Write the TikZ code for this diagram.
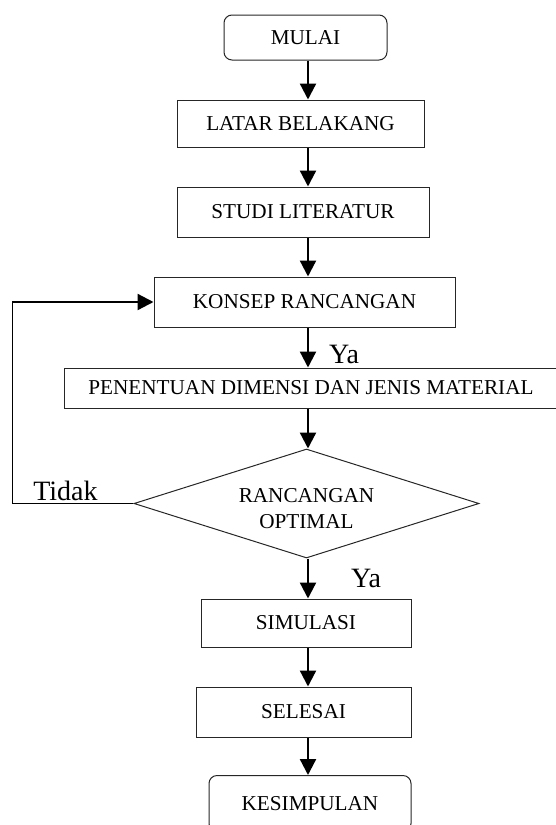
\documentclass[tikz,border=0pt]{standalone}
\usepackage{fontspec}
\setmainfont{Liberation Serif}
\usetikzlibrary{arrows.meta,shapes.geometric}

\begin{document}
\begin{tikzpicture}[x = 0.5pt, y = -0.5pt]
% Node styles ---
\tikzstyle{box} = [rectangle, draw = black!85, line width = 0.5pt, inner sep = 0pt, font = \fontsize{10.6}{12.7}\selectfont] % Process steps
\tikzstyle{term} = [box, rounded corners = 4pt] % Start and end
\tikzstyle{dec} = [diamond, aspect = 3.17, draw = black!85, line width = 0.5pt, inner sep = 0pt, align = center, font = \fontsize{10.6}{12.7}\selectfont] % Decision
\tikzstyle{lab} = [inner sep = 1pt, font = \fontsize{14}{16}\selectfont] % Ya / Tidak
% Edge styles
\tikzstyle{con} = [-{Triangle[length = 8pt, width = 8pt]}, line width = 1.15pt] % Flow
\tikzstyle{ret} = [line width = 0.5pt] % Return line
% Begin Figure ---
\clip (0,0) rectangle (556,825);
% Nodes
\node at (+305.5,+37.5) [term, minimum width = 81.5pt, minimum height = 22.5pt] (mulai) {MULAI};
\node at (+300.5,+123.5) [box, minimum width = 123.5pt, minimum height = 23.5pt] (latar) {LATAR BELAKANG};
\node at (+303.0,+212.0) [box, minimum width = 126pt, minimum height = 25pt] (studi) {STUDI LITERATUR};
\node at (+304.5,+302.0) [box, minimum width = 150.5pt, minimum height = 25pt] (konsep) {KONSEP RANCANGAN};
\node at (+311.0,+388.0) [box, minimum width = 247pt, minimum height = 20pt] (penentuan) {PENENTUAN DIMENSI DAN JENIS MATERIAL};
\node at (+306.5,+503.5) [dec, minimum width = 172.5pt, minimum height = 54.5pt] (optimal) {\raisebox{-2.5pt}[\height][\depth]{\shortstack{RANCANGAN\\[2.5pt]OPTIMAL}}};
\node at (+306.0,+623.0) [box, minimum width = 105pt, minimum height = 24pt] (simulasi) {SIMULASI};
\node at (+303.5,+712.0) [box, minimum width = 107.5pt, minimum height = 25pt] (selesai) {SELESAI};
\node at (+310.0,+803.5) [term, minimum width = 101pt, minimum height = 28pt] (kesimpulan) {KESIMPULAN};
\coordinate (spine) at (+308,0);
\coordinate (c1) at (+12,+503.5);
\coordinate (c2) at (konsep.west -| c1);
% Paths
\path (mulai.south -| spine) edge [con] (latar.north -| spine);
\path (latar.south -| spine) edge [con] (studi.north -| spine);
\path (studi.south -| spine) edge [con] (konsep.north -| spine);
\path (konsep.south -| spine) edge [con] node [lab, right, pos = 0.68, xshift = 9pt] {Ya} (penentuan.north -| spine);
\path (penentuan.south -| spine) edge [con] (optimal.north -| spine);
\path (optimal.south -| spine) edge [con] node [lab, right, pos = 0.49, xshift = 20pt] {Ya} (simulasi.north -| spine);
\path (simulasi.south -| spine) edge [con] (selesai.north -| spine);
\path (selesai.south -| spine) edge [con] (kesimpulan.north -| spine);
% back to the concept
\path (optimal) edge [ret] node [lab, above, pos = 0.56] {Tidak} (c1);
\path (c1) edge [ret] (c2);
\path (c2) edge [con] (konsep);
\end{tikzpicture}
\end{document}
